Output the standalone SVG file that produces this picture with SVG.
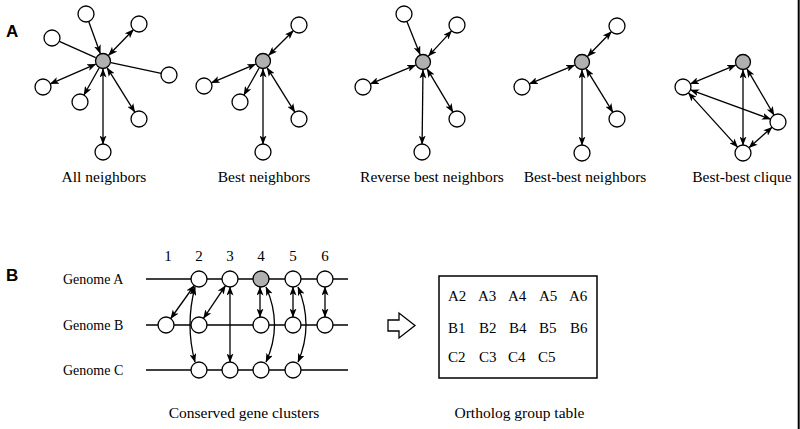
<svg xmlns="http://www.w3.org/2000/svg" width="800" height="429" viewBox="0 0 800 429">
<defs>
<marker id="ah" viewBox="0 0 9 7" refX="8.5" refY="3.5" markerWidth="9" markerHeight="7" markerUnits="userSpaceOnUse" orient="auto-start-reverse">
<path d="M0,0 L9,3.5 L0,7 L2.2,3.5 z" fill="#000"/>
</marker>
<style>
.n{fill:#fff;stroke:#000;stroke-width:1.3}
.g{fill:#b0b0b0;stroke:#000;stroke-width:1.3}
.e{stroke:#000;stroke-width:1.3;fill:none}
.d{marker-start:url(#ah);marker-end:url(#ah)}
.s{marker-end:url(#ah)}
.t{font-family:"Liberation Serif","Times New Roman",serif;font-size:15.5px;fill:#000}
.c{text-anchor:middle}
.p{font-family:"Liberation Sans",Arial,sans-serif;font-weight:bold;font-size:17px;fill:#000}
</style>
</defs>
<rect width="800" height="429" fill="#fff"/>
<line x1="798.7" y1="0" x2="798.7" y2="429" stroke="#000" stroke-width="2"/>
<text class="p" x="6" y="37">A</text>
<text class="p" x="6" y="281">B</text>

<g id="connectors">
<!-- panel 1 -->
<line class="e s" x1="88.7" y1="21.5" x2="100.3" y2="53.5"/>
<line class="e d" x1="108.6" y1="55.3" x2="133.4" y2="29.7"/>
<line class="e" x1="59.3" y1="41.3" x2="95.7" y2="57.7"/>
<line class="e" x1="110.8" y1="62.7" x2="161.2" y2="73.3"/>
<line class="e d" x1="95.7" y1="64.2" x2="50.3" y2="83.8"/>
<line class="e s" x1="99.1" y1="68" x2="83.9" y2="95"/>
<line class="e d" x1="107.2" y1="67.8" x2="134.8" y2="112.2"/>
<line class="e d" x1="103" y1="69" x2="103" y2="144"/>
<!-- panel 2 -->
<line class="e d" x1="268.7" y1="55.3" x2="293.3" y2="30.7"/>
<line class="e d" x1="255.6" y1="64.1" x2="211.4" y2="82.9"/>
<line class="e s" x1="259.1" y1="68" x2="243.9" y2="95"/>
<line class="e d" x1="267.2" y1="67.8" x2="294.8" y2="112.2"/>
<line class="e d" x1="263" y1="69" x2="263" y2="144"/>
<!-- panel 3 -->
<line class="e s" x1="406.9" y1="21.4" x2="420.1" y2="54.6"/>
<line class="e d" x1="428.4" y1="56.1" x2="451.6" y2="30.9"/>
<line class="e d" x1="415.6" y1="65.1" x2="370.4" y2="83.9"/>
<line class="e d" x1="427.1" y1="68.9" x2="452.9" y2="112.1"/>
<line class="e d" x1="423" y1="70" x2="422.1" y2="144"/>
<!-- panel 4 -->
<line class="e d" x1="587.6" y1="56.3" x2="611.4" y2="31.7"/>
<line class="e d" x1="574.6" y1="65.1" x2="529.4" y2="83.9"/>
<line class="e d" x1="586.2" y1="68.8" x2="612.8" y2="112.2"/>
<line class="e d" x1="582" y1="70" x2="582" y2="145"/>
<!-- panel 5 -->
<line class="e d" x1="735.6" y1="65.1" x2="690.4" y2="83.9"/>
<line class="e d" x1="747" y1="68.9" x2="774" y2="115.1"/>
<line class="e d" x1="743" y1="70" x2="743" y2="145"/>
<line class="e d" x1="690.5" y1="89.8" x2="770.5" y2="119.2"/>
<line class="e d" x1="688.4" y1="92.9" x2="737.6" y2="147.1"/>
<line class="e d" x1="772" y1="127.3" x2="749" y2="147.7"/>
<!-- panel B -->
<line class="e d" x1="194.3" y1="285.5" x2="170.7" y2="318.5"/>
<line class="e d" x1="225.5" y1="285.6" x2="203.5" y2="318.4"/>
<line class="e d" x1="230" y1="287" x2="230" y2="362"/>
<line class="e d" x1="260" y1="287" x2="260" y2="317" stroke-width="1.6"/>
<line class="e d" x1="293" y1="287" x2="293" y2="317"/>
<line class="e d" x1="325" y1="287" x2="325" y2="317" stroke-width="1.6"/>
<path class="e d" d="M195,287 Q185,325 195,362"/>
<path class="e d" d="M266,287 Q283,325 266,362"/>
<path class="e d" d="M298,287 Q314,325 298,362"/>
</g>

<!-- genome lines -->
<line class="e" x1="146" y1="279" x2="348" y2="279"/>
<line class="e" x1="146" y1="325" x2="348" y2="325"/>
<line class="e" x1="146" y1="370" x2="348" y2="370"/>

<g id="p1">
<circle class="g" cx="103" cy="61" r="7.5"/>
<circle class="n" cx="86" cy="14" r="8"/>
<circle class="n" cx="139" cy="24" r="8"/>
<circle class="n" cx="52" cy="38" r="8"/>
<circle class="n" cx="169" cy="75" r="8"/>
<circle class="n" cx="43" cy="87" r="8"/>
<circle class="n" cx="80" cy="102" r="8"/>
<circle class="n" cx="139" cy="119" r="8"/>
<circle class="n" cx="103" cy="152" r="8"/>
<text class="t c" x="104" y="182">All neighbors</text>
</g>
<g id="p2">
<circle class="g" cx="263" cy="61" r="7.5"/>
<circle class="n" cx="299" cy="25" r="8"/>
<circle class="n" cx="204" cy="86" r="8"/>
<circle class="n" cx="240" cy="102" r="8"/>
<circle class="n" cx="299" cy="119" r="8"/>
<circle class="n" cx="263" cy="152" r="8"/>
<text class="t c" x="264" y="182">Best neighbors</text>
</g>
<g id="p3">
<circle class="g" cx="423" cy="62" r="7.5"/>
<circle class="n" cx="404" cy="14" r="8"/>
<circle class="n" cx="457" cy="25" r="8"/>
<circle class="n" cx="363" cy="87" r="8"/>
<circle class="n" cx="457" cy="119" r="8"/>
<circle class="n" cx="422" cy="152" r="8"/>
<text class="t c" x="432" y="182">Reverse best neighbors</text>
</g>
<g id="p4">
<circle class="g" cx="582" cy="62" r="7.5"/>
<circle class="n" cx="617" cy="26" r="8"/>
<circle class="n" cx="522" cy="87" r="8"/>
<circle class="n" cx="617" cy="119" r="8"/>
<circle class="n" cx="582" cy="153" r="8"/>
<text class="t c" x="585" y="182">Best-best neighbors</text>
</g>
<g id="p5">
<circle class="g" cx="743" cy="62" r="7.5"/>
<circle class="n" cx="683" cy="87" r="8"/>
<circle class="n" cx="778" cy="122" r="8"/>
<circle class="n" cx="743" cy="153" r="8"/>
<text class="t c" x="742" y="182">Best-best clique</text>
</g>

<g id="genomes">
<text class="t" x="63" y="284" style="font-size:14px">Genome A</text>
<text class="t" x="63" y="330" style="font-size:14px">Genome B</text>
<text class="t" x="63" y="375" style="font-size:14px">Genome C</text>
<text class="t c" x="168" y="261" style="font-size:15px">1</text>
<text class="t c" x="199" y="261" style="font-size:15px">2</text>
<text class="t c" x="230" y="261" style="font-size:15px">3</text>
<text class="t c" x="261" y="261" style="font-size:15px">4</text>
<text class="t c" x="293" y="261" style="font-size:15px">5</text>
<text class="t c" x="325" y="261" style="font-size:15px">6</text>
</g>
<g id="rowA">
<circle class="n" cx="199" cy="279" r="8"/>
<circle class="n" cx="230" cy="279" r="8"/>
<circle class="g" cx="261" cy="279" r="8"/>
<circle class="n" cx="293" cy="279" r="8"/>
<circle class="n" cx="325" cy="279" r="8"/>
</g>
<g id="rowB">
<circle class="n" cx="166" cy="325" r="8"/>
<circle class="n" cx="199" cy="325" r="8"/>
<circle class="n" cx="261" cy="325" r="8"/>
<circle class="n" cx="293" cy="325" r="8"/>
<circle class="n" cx="325" cy="325" r="8"/>
</g>
<g id="rowC">
<circle class="n" cx="199" cy="370" r="8"/>
<circle class="n" cx="230" cy="370" r="8"/>
<circle class="n" cx="261" cy="370" r="8"/>
<circle class="n" cx="293" cy="370" r="8"/>
</g>
<text class="t c" x="244" y="418">Conserved gene clusters</text>

<g id="blockarrow">
<polygon points="388,320 399,320 399,313 415,325.5 399,338 399,331 388,331" fill="#fff" stroke="#000" stroke-width="1.3"/>
</g>
<g id="table">
<rect x="439" y="276" width="158" height="102" fill="#fff" stroke="#000" stroke-width="1.5"/>
<text class="t" style="font-size:15px" x="448" y="301">A2</text>
<text class="t" style="font-size:15px" x="478" y="301">A3</text>
<text class="t" style="font-size:15px" x="508" y="301">A4</text>
<text class="t" style="font-size:15px" x="539" y="301">A5</text>
<text class="t" style="font-size:15px" x="569" y="301">A6</text>
<text class="t" style="font-size:15px" x="448" y="333">B1</text>
<text class="t" style="font-size:15px" x="479" y="333">B2</text>
<text class="t" style="font-size:15px" x="509" y="333">B4</text>
<text class="t" style="font-size:15px" x="539" y="333">B5</text>
<text class="t" style="font-size:15px" x="570" y="333">B6</text>
<text class="t" style="font-size:15px" x="448" y="362">C2</text>
<text class="t" style="font-size:15px" x="479" y="362">C3</text>
<text class="t" style="font-size:15px" x="508" y="362">C4</text>
<text class="t" style="font-size:15px" x="538" y="362">C5</text>
</g>
<text class="t c" x="519.5" y="418">Ortholog group table</text>
</svg>
